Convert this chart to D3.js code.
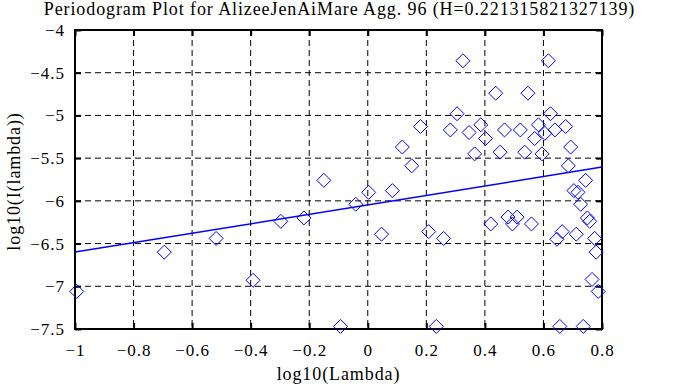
<!DOCTYPE html>
<html>
<head>
<meta charset="utf-8">
<script src="https://cdn.jsdelivr.net/npm/d3@7"></script>
<style>
  body { margin: 0; background: #fff; }
  text { font-family: "Liberation Serif", "DejaVu Serif", serif; fill: #000; }
</style>
</head>
<body>
<div id="chart"></div>
<script>
// log10(lambda) of each periodogram point
var logLambda = [
  -0.994, -0.695, -0.518, -0.392, -0.297, -0.218, -0.150, -0.093, -0.041, 0.003,
  0.047, 0.084, 0.118, 0.150, 0.180, 0.208, 0.234, 0.259, 0.282, 0.305,
  0.325, 0.346, 0.365, 0.386, 0.402, 0.420, 0.437, 0.452, 0.467, 0.479,
  0.494, 0.510, 0.521, 0.536, 0.547, 0.559, 0.570, 0.583, 0.595, 0.605,
  0.617, 0.624, 0.639, 0.646, 0.656, 0.664, 0.676, 0.685, 0.693, 0.704,
  0.712, 0.718, 0.727, 0.736, 0.744, 0.750, 0.758, 0.766, 0.775, 0.780,
  0.787
];
// log10(I(lambda)) of each point
var logI = [
  -7.06, -6.60, -6.44, -6.93, -6.24, -6.20, -5.76, -7.47, -6.04, -5.90,
  -6.39, -5.88, -5.37, -5.59, -5.13, -6.36, -7.47, -6.44, -5.17, -4.98,
  -4.36, -5.20, -5.45, -5.11, -5.27, -6.27, -4.74, -5.43, -5.17, -6.19,
  -6.27, -6.19, -5.17, -5.43, -4.74, -6.27, -5.27, -5.11, -5.45, -5.21,
  -4.36, -4.98, -5.17, -6.45, -7.47, -6.36, -5.13, -5.59, -5.37, -5.88,
  -6.39, -5.90, -6.04, -7.47, -5.76, -6.20, -6.24, -6.92, -6.44, -6.60,
  -7.06
];
// least squares fit line end points
var fitX = [-1, 0.8];
var fitY = [-6.60, -5.605];

var xTicks = [-1, -0.8, -0.6, -0.4, -0.2, 0, 0.2, 0.4, 0.6, 0.8];
var yTicks = [-7.5, -7, -6.5, -6, -5.5, -5, -4.5, -4];

var titleText = "Periodogram Plot for AlizeeJenAiMare Agg. 96 (H=0.221315821327139)";
var xLabel = "log10(Lambda)";
var yLabel = "log10(I(lambda))";

var width = 677, height = 385;
var margin = { top: 30, right: 75, bottom: 56, left: 75 };
var innerW = width - margin.left - margin.right;
var innerH = height - margin.top - margin.bottom;

var svg = d3.select("#chart").append("svg")
  .attr("width", width)
  .attr("height", height)
  .style("display", "block");

svg.append("rect").attr("width", width).attr("height", height).attr("fill", "#fff");

var x = d3.scaleLinear().domain([-1, 0.8]).range([0, innerW]);
var y = d3.scaleLinear().domain([-7.5, -4]).range([innerH, 0]);

var g = svg.append("g").attr("transform", "translate(" + margin.left + "," + margin.top + ")");

// dashed grid
g.append("g").selectAll("line").data(xTicks.slice(1, -1)).enter().append("line")
  .attr("x1", d => x(d)).attr("x2", d => x(d))
  .attr("y1", 0).attr("y2", innerH)
  .attr("stroke", "#000").attr("stroke-dasharray", "6,4");
g.append("g").selectAll("line").data(yTicks.slice(1, -1)).enter().append("line")
  .attr("y1", d => y(d)).attr("y2", d => y(d))
  .attr("x1", 0).attr("x2", innerW)
  .attr("stroke", "#000").attr("stroke-dasharray", "6,4");

var fmt = function(d) { return d3.format("")(d).replace("-", "\u2212"); };

// axes with inward ticks
var xAxis = g.append("g").attr("transform", "translate(0," + innerH + ")")
  .call(d3.axisBottom(x).tickValues(xTicks).tickSize(-6).tickPadding(15).tickFormat(fmt));
var xAxisTop = g.append("g")
  .call(d3.axisTop(x).tickValues(xTicks).tickSize(-6).tickFormat(""));
var yAxis = g.append("g")
  .call(d3.axisLeft(y).tickValues(yTicks).tickSize(-6).tickPadding(10).tickFormat(fmt));
var yAxisRight = g.append("g").attr("transform", "translate(" + innerW + ",0)")
  .call(d3.axisRight(y).tickValues(yTicks).tickSize(-6).tickFormat(""));

[xAxis, xAxisTop, yAxis, yAxisRight].forEach(function(a) {
  a.select(".domain").remove();
  a.selectAll(".tick line").attr("stroke", "#000").attr("stroke-width", 2);
  a.selectAll(".tick text").attr("font-size", 17).attr("letter-spacing", 1)
    .attr("font-family", "Liberation Serif, serif").attr("fill", "#000");
});

// frame
g.append("rect").attr("width", innerW).attr("height", innerH)
  .attr("fill", "none").attr("stroke", "#000").attr("stroke-width", 2);

// fit line
g.append("path")
  .datum(d3.zip(fitX, fitY))
  .attr("fill", "none").attr("stroke", "#0000ff").attr("stroke-width", 1.5)
  .attr("d", d3.line().x(d => x(d[0])).y(d => y(d[1])));

// diamonds
var diamond = "M0,-7L7,0L0,7L-7,0Z";
g.append("g").selectAll("path").data(d3.zip(logLambda, logI)).enter().append("path")
  .attr("transform", d => "translate(" + x(d[0]) + "," + y(d[1]) + ")")
  .attr("d", diamond)
  .attr("fill", "none").attr("stroke", "#0000ff").attr("stroke-width", 1);

// labels
svg.append("text").attr("x", width / 2 + 1).attr("y", 15)
  .attr("text-anchor", "middle").attr("font-size", 18).attr("letter-spacing", 0.9)
  .text(titleText);
svg.append("text").attr("x", margin.left + innerW / 2).attr("y", 380)
  .attr("text-anchor", "middle").attr("font-size", 18).attr("letter-spacing", 0.9)
  .text(xLabel);
svg.append("text")
  .attr("transform", "translate(20," + (margin.top + innerH / 2 + 2) + ") rotate(-90)")
  .attr("text-anchor", "middle").attr("font-size", 18).attr("letter-spacing", 0.9)
  .text(yLabel);
</script>
</body>
</html>
